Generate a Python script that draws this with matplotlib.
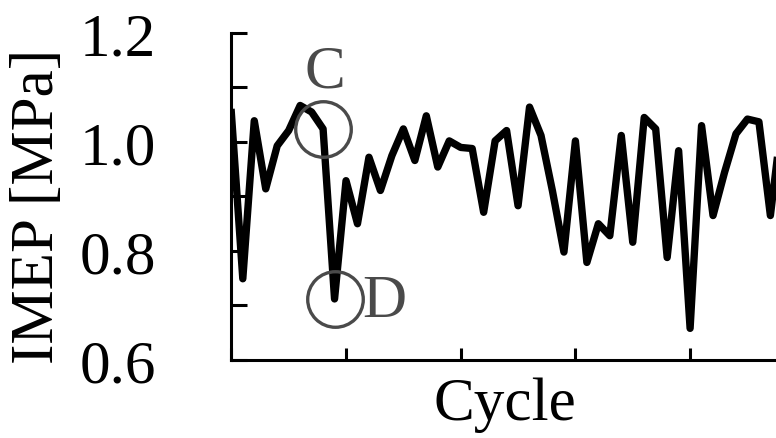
import matplotlib.pyplot as plt
from matplotlib.ticker import MultipleLocator, NullFormatter

plt.rcParams['font.family'] = 'serif'
plt.rcParams['font.serif'] = ['Liberation Serif', 'Times New Roman', 'DejaVu Serif']

# IMEP per cycle
cycles = list(range(49))
imep = [1.054, 0.749, 1.039, 0.914, 0.993, 1.021, 1.067, 1.055, 1.024, 0.712,
        0.929, 0.850, 0.972, 0.911, 0.975, 1.024, 0.966, 1.048, 0.954, 1.002,
        0.990, 0.988, 0.871, 1.002, 1.021, 0.883, 1.064, 1.012, 0.910, 0.798,
        1.002, 0.779, 0.850, 0.828, 1.012, 0.816, 1.045, 1.024, 0.788, 0.984,
        0.658, 1.030, 0.865, 0.944, 1.015, 1.042, 1.037, 0.865, 1.040]

# marked cycles
marks = {'C': 8, 'D': 9}
y_ticks = [0.6, 0.8, 1.0, 1.2]

fig = plt.figure(figsize=(7.76, 4.39), dpi=100)
ax = fig.add_axes([0.2981, 0.1777, 0.739, 0.7449])

ax.plot(cycles, imep, color='black', lw=5.3)

gray = '#4a4a4a'
for name, k in marks.items():
    ax.plot(cycles[k], imep[k], marker='o', ms=40, mfc='none', mec=gray,
            mew=2.4, zorder=3)

ax.text(cycles[marks['C']] + 0.2, imep[marks['C']] + 0.105, 'C',
        color=gray, fontsize=44, ha='center', va='center')
ax.text(cycles[marks['D']] + 4.3, imep[marks['D']] - 0.004, 'D',
        color=gray, fontsize=44, ha='center', va='center')

ax.set_xlim(0, 50)
ax.set_ylim(0.6, 1.2)
ax.set_yticks(y_ticks)
ax.yaxis.set_minor_locator(MultipleLocator(0.1))
ax.xaxis.set_major_locator(MultipleLocator(10))
ax.xaxis.set_major_formatter(NullFormatter())
ax.set_yticklabels([f'{v:.1f}' for v in y_ticks])

for s in ['top', 'right']:
    ax.spines[s].set_visible(False)
for s in ['left', 'bottom']:
    ax.spines[s].set_linewidth(2.2)

ax.tick_params(axis='y', which='both', direction='in', length=11.5, width=2.2,
               pad=54, labelsize=44)
ax.tick_params(axis='x', which='major', direction='in', length=9, width=2.2)

fig.text(505 / 776, 1 - 405 / 439, 'Cycle', fontsize=44, ha='center', va='center')
fig.text(38 / 776, 1 - 206 / 439, 'IMEP [MPa]', fontsize=44, rotation=90,
         ha='center', va='center')

fig.savefig('out.png', dpi=100)
